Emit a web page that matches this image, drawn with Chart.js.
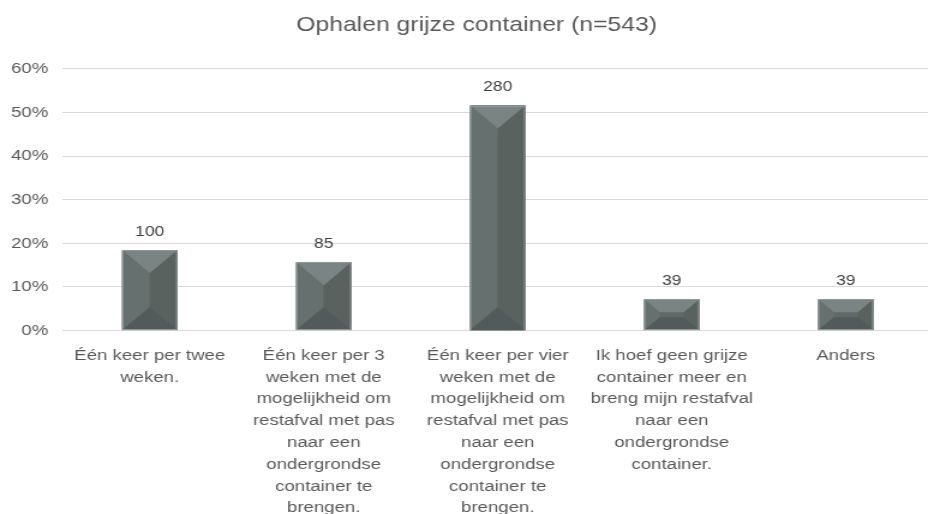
<!DOCTYPE html>
<html>
<head>
<meta charset="utf-8">
<script src="https://cdn.jsdelivr.net/npm/chart.js@4/dist/chart.umd.min.js"></script>
<style>
  html, body { margin: 0; padding: 0; background: #ffffff; overflow: hidden; width: 928px; height: 514px; }
  #wrap { width: 777px; height: 514px; position: relative; transform: scaleX(1.2005); transform-origin: 0 0; }
</style>
</head>
<body>
<div id="wrap"><canvas id="c" width="777" height="514"></canvas></div>
<script>
const titleText = "Ophalen grijze container (n=543)";
const totalN = 543;
const categories = [
  ["Één keer per twee", "weken."],
  ["Één keer per 3", "weken met de", "mogelijkheid om", "restafval met pas", "naar een", "ondergrondse", "container te", "brengen."],
  ["Één keer per vier", "weken met de", "mogelijkheid om", "restafval met pas", "naar een", "ondergrondse", "container te", "brengen."],
  ["Ik hoef geen grijze", "container meer en", "breng mijn restafval", "naar een", "ondergrondse", "container."],
  ["Anders"]
];
const counts = [100, 85, 280, 39, 39];
const percentages = counts.map(c => c / totalN * 100);
const yTicks = [0, 10, 20, 30, 40, 50, 60];

const FONT = "'Liberation Sans', Arial, sans-serif";
const TEXT = "#595959";

const bevelPlugin = {
  id: 'bevel',
  afterLayout(chart) {
    const tb = chart.titleBlock;
    if (tb) {
      const c = (tb.left + tb.right) / 2;
      const d = 397 - c;
      tb.left += d; tb.right += d;
    }
  },
  afterDatasetsDraw(chart) {
    const ctx = chart.ctx;
    const meta = chart.getDatasetMeta(0);
    meta.data.forEach((bar, i) => {
      const p = bar.getProps(['x', 'y', 'base', 'width'], true);
      const L = p.x - p.width / 2, R = p.x + p.width / 2;
      const T = Math.min(p.y, p.base), B = Math.max(p.y, p.base);
      const h = B - T, w = R - L;
      const b = Math.min(w / 2, h * 0.42);
      ctx.save();
      ctx.fillStyle = '#5f6968';
      ctx.fillRect(L, T, w, h);
      const poly = (pts, col) => {
        ctx.beginPath();
        ctx.moveTo(pts[0][0], pts[0][1]);
        for (let k = 1; k < pts.length; k++) ctx.lineTo(pts[k][0], pts[k][1]);
        ctx.closePath();
        ctx.fillStyle = col;
        ctx.fill();
      };
      poly([[L, T], [L + b, T + b], [L + b, B - b], [L, B]], '#66706f');
      poly([[R, T], [R - b, T + b], [R - b, B - b], [R, B]], '#59625f');
      poly([[L, T], [R, T], [R - b, T + b], [L + b, T + b]], '#7a8483');
      poly([[L, B], [R, B], [R - b, B - b], [L + b, B - b]], '#525b5a');
      ctx.strokeStyle = '#8e9796';
      ctx.lineWidth = 1;
      ctx.strokeRect(L + 0.5, Math.round(T) + 0.5, w - 1, Math.round(h) - 1);
      ctx.fillStyle = '#404040';
      ctx.font = '14.5px ' + FONT;
      ctx.textAlign = 'center';
      ctx.textBaseline = 'alphabetic';
      ctx.fillText(String(counts[i]), p.x, T - 14.5);
      ctx.restore();
    });
  }
};

new Chart(document.getElementById('c'), {
  type: 'bar',
  data: {
    labels: categories,
    datasets: [{
      data: percentages,
      backgroundColor: '#5f6968',
      borderWidth: 0,
      categoryPercentage: 1,
      barPercentage: 0.316
    }]
  },
  options: {
    responsive: false,
    animation: false,
    devicePixelRatio: 1,
    layout: { padding: { left: -2.8, right: 0, top: 0, bottom: -19 } },
    plugins: {
      legend: { display: false },
      tooltip: { enabled: false },
      title: {
        display: true,
        text: titleText,
        color: TEXT,
        font: { family: FONT, size: 20.6, weight: 'normal' },
        padding: { top: 13, bottom: 31 }
      }
    },
    scales: {
      x: {
        grid: { display: false, drawTicks: false },
        border: { display: true, color: '#d9d9d9' },
        ticks: {
          color: TEXT,
          font: { family: FONT, size: 15.5, lineHeight: '21.8px' },
          padding: 14,
          maxRotation: 0,
          autoSkip: false
        }
      },
      y: {
        min: 0,
        max: 60,
        afterBuildTicks(axis) { axis.ticks = yTicks.map(v => ({ value: v })); },
        grid: { color: '#d9d9d9', drawTicks: false },
        border: { display: false },
        ticks: {
          color: TEXT,
          font: { family: FONT, size: 15.5 },
          padding: 12,
          callback: v => v + '%'
        }
      }
    }
  },
  plugins: [bevelPlugin]
});
</script>
</body>
</html>
